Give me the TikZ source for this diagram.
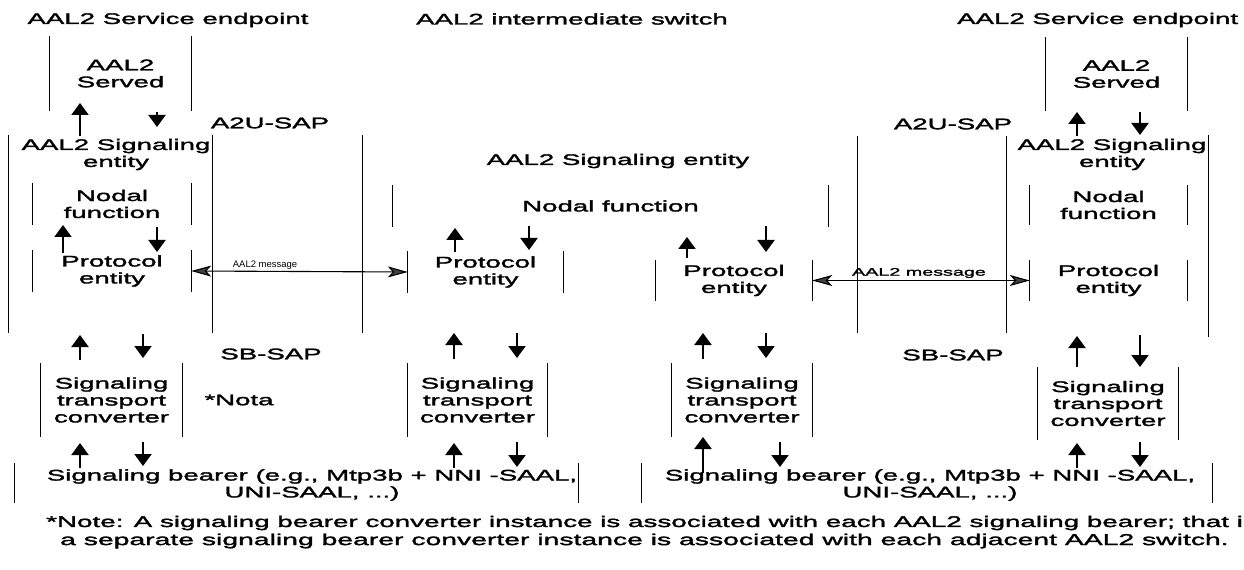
\documentclass[tikz,border=0pt]{standalone}
\usepackage{fontspec}
\setmainfont{Liberation Sans}[FakeStretch=1.8,FakeBold=2]
\newfontfamily\narrowsans{Liberation Sans}
\usetikzlibrary{arrows.meta}

\newcommand\flowarrow[4]{% name, x, y start, y end
  \coordinate (#1-s) at (#2,#3);
  \coordinate (#1-e) at (#2,#4);
  \draw[flow] (#1-s) -- (#1-e);}

\begin{document}
\begin{tikzpicture}[x=1bp,y=-1bp,
  txt/.style={font=\fontsize{15.4}{17}\selectfont, align=center, inner sep=0pt},
  area/.style={inner sep=0pt, minimum width=#1},
  side/.style={line width=1.3bp},
  flow/.style={line width=2.2bp, -{Triangle[length=12bp,width=17bp]}},
  msg/.style={line width=1.1bp, {Stealth[length=20bp,width=11bp,inset=5bp,fill=black!75]}-{Stealth[length=20bp,width=11bp,inset=5bp,fill=black!75]}}]

\useasboundingbox (0,0) rectangle (1244,570);
\fill[white] (0,0) rectangle (1244,570);
\clip (0,0) rectangle (1244,570);

% headings
\node[txt] (hL) at (168,20) {AAL2 Service endpoint};
\node[txt] (hM) at (572,19) {AAL2 intermediate switch};
\node[txt, anchor=west] (hR) at (957,20) {AAL2 Service endpoint};

% left service endpoint
\node[txt, minimum width=141bp, minimum height=75bp] (servedL) at (120.5,73.5) {AAL2\\Served};
\node[area=204bp, minimum height=198bp] (entL) at (111,234) {};
\node[txt] (entLt) at (116,154.5) {AAL2 Signaling\\entity};
\node[txt, minimum width=158bp, minimum height=42bp] (nodalL) at (112,204) {Nodal\\function};
\node[txt, minimum width=158bp, minimum height=42bp] (protL) at (112,271) {Protocol\\entity};
\node[txt, minimum width=141bp, minimum height=74bp] (stcL) at (111.5,400) {Signaling\\transport\\converter};

% service access points
\node[area=149bp, minimum height=198bp] (a2uL) at (287.5,234) {};
\node[txt] (a2uLt) at (270,123) {A2U-SAP};
\node[txt] (sbL) at (271,354) {SB-SAP};
\node[txt] (nota) at (239,400) {*Nota};
\node[area=148bp, minimum height=197bp] (a2uR) at (932,234.5) {};
\node[txt] (a2uRt) at (953,124) {A2U-SAP};
\node[txt] (sbR) at (953,355) {SB-SAP};

% intermediate switch
\node[txt] (entM) at (618,161) {AAL2 Signaling entity};
\node[txt, minimum width=435bp, minimum height=42bp] (nodalM) at (610.5,206) {Nodal function};
\node[txt, minimum width=155bp, minimum height=42bp] (protM1) at (485.5,272) {Protocol\\entity};
\node[txt, minimum width=156bp, minimum height=41bp] (protM2) at (734,280.5) {Protocol\\entity};
\node[txt, minimum width=139bp, minimum height=74bp] (stcM1) at (477.5,400) {Signaling\\transport\\converter};
\node[txt, minimum width=140bp, minimum height=74bp] (stcM2) at (742,400) {Signaling\\transport\\converter};

% right service endpoint
\node[txt, minimum width=141bp, minimum height=74bp] (servedR) at (1116.5,74) {AAL2\\Served};
\node[area=202bp, minimum height=202bp] (entR) at (1107,236) {};
\node[txt] (entRt) at (1112,154.5) {AAL2 Signaling\\entity};
\node[txt, minimum width=157bp, minimum height=40bp] (nodalR) at (1108.5,205) {Nodal\\function};
\node[txt, minimum width=157bp, minimum height=41bp] (protR) at (1108.5,280.5) {Protocol\\entity};
\node[txt, minimum width=140bp, minimum height=73bp] (stcR) at (1108,403.5) {Signaling\\transport\\converter};

% signaling bearers
\node[area=563bp, minimum height=40bp] (bearL) at (296.5,483) {};
\node[txt] (bearLt) at (312,485) {Signaling bearer (e.g., Mtp3b + NNI -SAAL,\\UNI-SAAL, ...)};
\node[area=570bp, minimum height=40bp] (bearR) at (927,483) {};
\node[txt] (bearRt) at (930,485) {Signaling bearer (e.g., Mtp3b + NNI -SAAL,\\UNI-SAAL, ...)};

% open-sided frames
\foreach \b in {servedL,nodalL,protL,stcL,a2uL,a2uR,nodalM,protM1,protM2,stcM1,stcM2,servedR,nodalR,protR,stcR,bearL,bearR}
  \draw[side] (\b.north west) -- (\b.south west) (\b.north east) -- (\b.south east);
% the entity frames share one side with the access-point frames
\draw[side] (entL.north west) -- (entL.south west);
\draw[side] (entR.north east) -- (entR.south east);

% peer messages
\draw[msg] (protL.east) -- (protM1.west);
\node[font=\narrowsans\fontsize{9.5}{10}\selectfont, inner sep=0pt] (msgL) at (265,265) {AAL2 message};
\draw[msg] (protM2.east) -- (protR.west);
\node[font=\fontsize{11}{12}\selectfont, inner sep=0pt] (msgR) at (919,273) {AAL2 message};

% primitives between layers, left endpoint
\flowarrow{l1}{80}{136}{103}
\flowarrow{l2}{157}{112}{127}
\flowarrow{l3}{63}{253}{225}
\flowarrow{l4}{157}{227}{252}
\flowarrow{l5}{80}{360}{335}
\flowarrow{l6}{143}{334}{358}
\flowarrow{l7}{80}{468}{443}
\flowarrow{l8}{143}{442}{466}
% intermediate switch, left side
\flowarrow{m1}{455}{252}{228}
\flowarrow{m2}{529}{226}{250}
\flowarrow{m3}{454}{359}{333}
\flowarrow{m4}{517}{333}{358}
\flowarrow{m5}{454}{468}{443}
\flowarrow{m6}{517}{442}{467}
% intermediate switch, right side
\flowarrow{n1}{687}{258}{237}
\flowarrow{n2}{766}{226}{252}
\flowarrow{n3}{703}{359}{333}
\flowarrow{n4}{766}{333}{358}
\flowarrow{n5}{703}{473}{437}
\flowarrow{n6}{780}{442}{467}
% right endpoint
\flowarrow{r1}{1077}{136}{112}
\flowarrow{r2}{1140}{112}{135}
\flowarrow{r3}{1077}{367}{336}
\flowarrow{r4}{1140}{335}{367}
\flowarrow{r5}{1077}{468}{443}
\flowarrow{r6}{1140}{442}{467}

% footnote
\node[txt, font=\fontsize{15.5}{17}\selectfont, anchor=west] (note1) at (46,523) {*Note: A signaling bearer converter instance is associated with each AAL2 signaling bearer; that i};
\node[txt, font=\fontsize{15.8}{17}\selectfont, anchor=west] (note2) at (60,541) {a separate signaling bearer converter instance is associated with each adjacent AAL2 switch.};
\end{tikzpicture}
\end{document}
